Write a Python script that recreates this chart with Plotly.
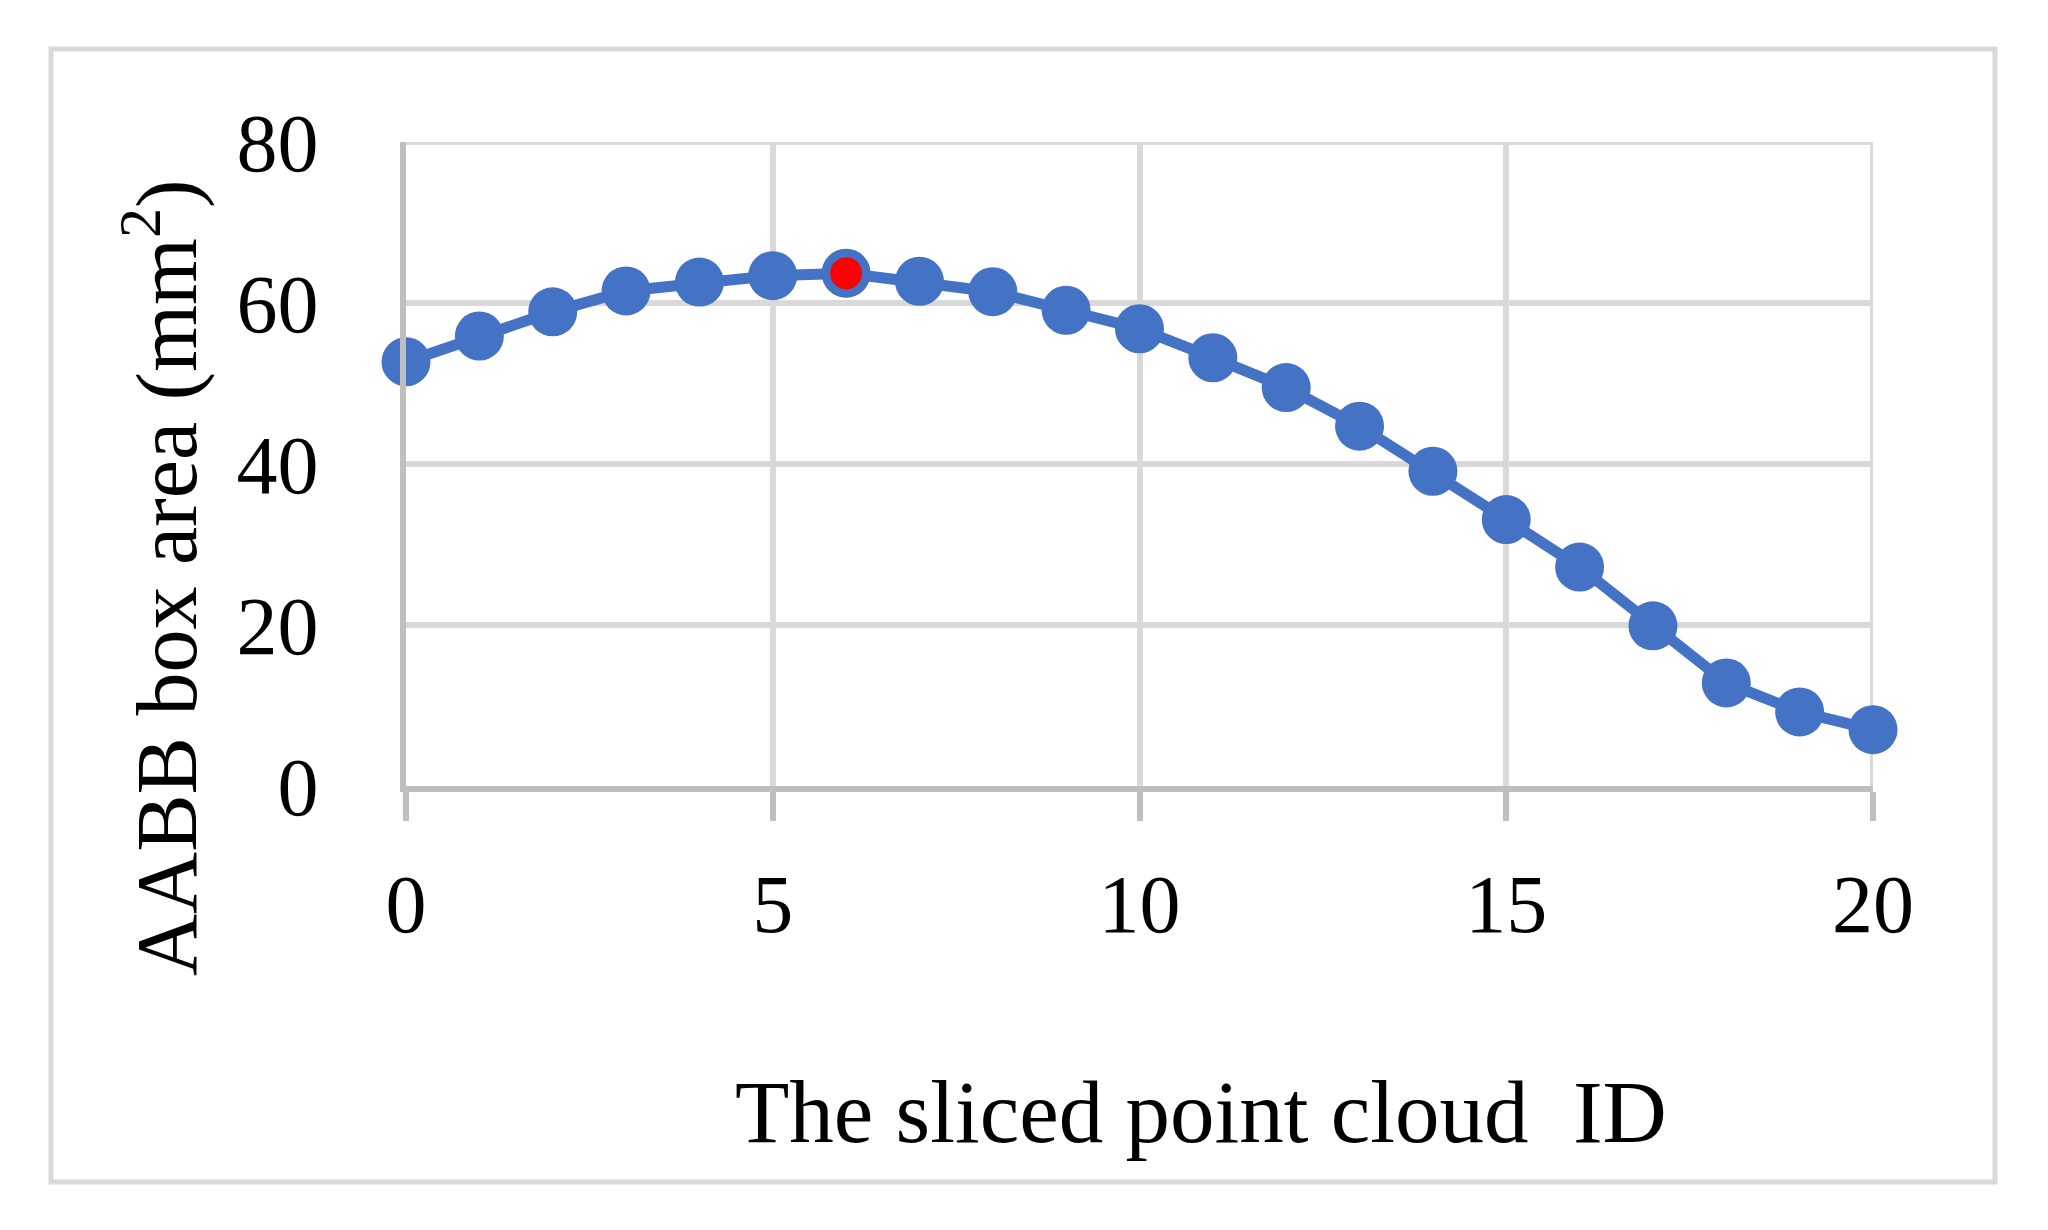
import plotly.graph_objects as go

slice_id = list(range(21))
aabb_area = [52.7, 55.9, 58.9, 61.5, 62.6, 63.4, 63.7, 62.7, 61.4, 59.1, 56.8,
             53.2, 49.5, 44.7, 39.1, 33.1, 27.2, 19.9, 12.8, 9.2, 7.0]
highlight_id = [6]
highlight_area = [63.7]

x_ticks = [0, 5, 10, 15, 20]
y_ticks = [0, 20, 40, 60, 80]

BLUE = "#4472C4"
FONT = "Liberation Serif"
GRID = "#D9D9D9"

fig = go.Figure()
fig.add_trace(go.Scatter(
    x=slice_id, y=aabb_area, mode="lines+markers",
    line=dict(color=BLUE, width=11),
    marker=dict(color=BLUE, size=49),
    cliponaxis=False, showlegend=False,
))
fig.add_trace(go.Scatter(
    x=highlight_id, y=highlight_area, mode="markers",
    marker=dict(color="#FF0000", size=40, line=dict(color=BLUE, width=8)),
    cliponaxis=False, showlegend=False,
))

OFF = 8  # page body margin
W, H = 2048 - 2 * OFF, 1230 - 2 * OFF
L, T = 406 - OFF, 142 - OFF
R = W - (1873 - OFF)
B = H - (786 - OFF)
PW, PH = W - L - R, H - T - B

def px(xp):
    return (xp - OFF - L) / PW

def py(yp):
    return (H - B - (yp - OFF)) / PH

fig.update_layout(
    width=W, height=H,
    margin=dict(l=L, r=R, t=T, b=B),
    paper_bgcolor="white", plot_bgcolor="white",
    font=dict(family=FONT, size=82, color="black"),
    xaxis=dict(
        range=[0, 20], tickvals=x_ticks, ticktext=[str(v) for v in x_ticks],
        showgrid=True, gridcolor=GRID, gridwidth=6,
        showline=True, linecolor="#BFBFBF", linewidth=6,
        ticks="outside", ticklen=29, tickwidth=6, tickcolor="#BFBFBF",
        ticklabelstandoff=13, zeroline=False,
        tickfont=dict(family=FONT, size=82),
    ),
    yaxis=dict(
        range=[0, 80], tickvals=y_ticks, ticktext=[str(v) for v in y_ticks],
        showgrid=True, gridcolor=GRID, gridwidth=6,
        showline=True, linecolor="#BFBFBF", linewidth=6,
        ticks="", ticklabelstandoff=65, zeroline=False,
        tickfont=dict(family=FONT, size=82),
    ),
    shapes=[
        dict(type="rect", xref="paper", yref="paper",
             x0=px(51), x1=px(1995), y0=py(1182), y1=py(49),
             line=dict(color=GRID, width=5), fillcolor="rgba(0,0,0,0)",
             layer="below"),
        dict(type="line", xref="x", yref="y", x0=x_ticks[0], x1=x_ticks[-1],
             y0=y_ticks[-1], y1=y_ticks[-1], line=dict(color=GRID, width=6),
             layer="below"),
        dict(type="line", xref="x", yref="y", x0=x_ticks[-1], x1=x_ticks[-1],
             y0=y_ticks[0], y1=y_ticks[-1], line=dict(color=GRID, width=6),
             layer="below"),
    ],
    annotations=[
        dict(text="The sliced point cloud\u00a0 ID", xref="paper", yref="paper",
             x=px(1201), y=py(1112), xanchor="center", yanchor="middle",
             showarrow=False, font=dict(family=FONT, size=89)),
        dict(text="AABB box area (mm<sup>2</sup>)", xref="paper", yref="paper",
             x=px(160), y=py(578), xanchor="center", yanchor="middle",
             textangle=-90, showarrow=False, font=dict(family=FONT, size=86)),
    ],
)

fig.write_html("out.html")
